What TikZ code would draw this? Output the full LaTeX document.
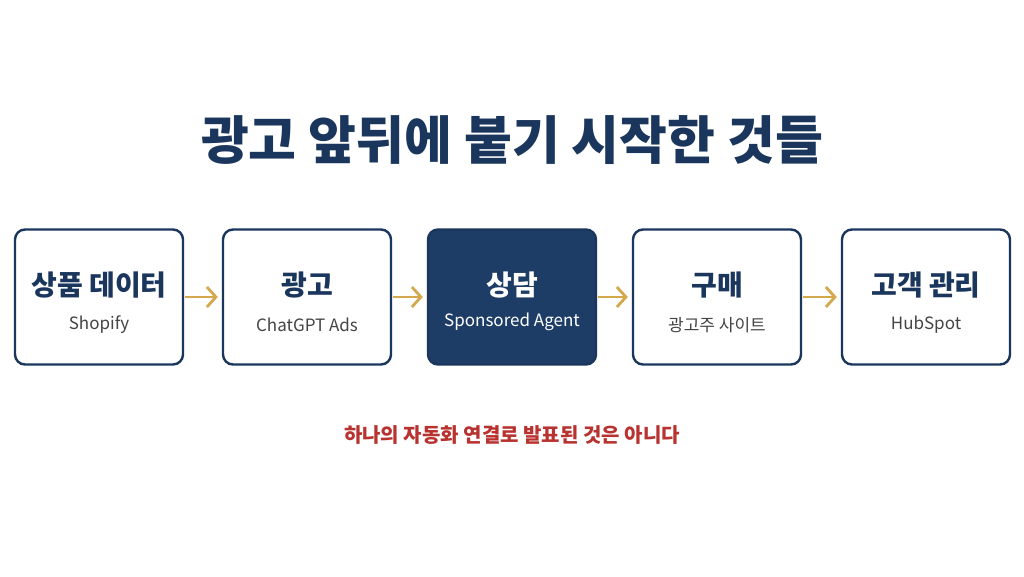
\documentclass[tikz,border=0pt]{standalone}
\usepackage{fontspec}
\setmainfont{Noto Sans CJK KR}
\usetikzlibrary{arrows.meta,calc}
\definecolor{navy}{HTML}{1B365D}
\definecolor{navyfill}{HTML}{1D3D66}
\definecolor{gold}{HTML}{D4A94E}
\definecolor{subgray}{HTML}{444444}
\definecolor{warnred}{HTML}{B8322F}
\tikzset{
  stagebox/.style = {draw = navy, line width = 2.4pt, rounded corners = 10pt,
    minimum width = 168pt, minimum height = 135pt, fill = white},
  stagehot/.style = {stagebox, fill = navyfill},
  stagename/.style = {font = \fontsize{28}{32}\selectfont\bfseries, text = navy},
  stagesub/.style = {font = \fontsize{17}{20}\selectfont, text = subgray},
  flow/.style = {draw = gold, line width = 2.8pt, -{Straight Barb[length=9pt,width=20pt]}}
}

\begin{document}
\begin{tikzpicture}[x = 1pt, y = -1pt]
        % canvas
        \useasboundingbox[fill = white](0,0)rectangle(1024,576);
        % title
        \node[font = \fontsize{52}{58}\selectfont\bfseries, text = navy](title)at(512,140){광고 앞뒤에 붙기 시작한 것들};
        % boxes
        \node[stagebox](data)at(99,297){};
        \node[stagebox](ads)at(307,297){};
        \node[stagehot](talk)at(512,297){};
        \node[stagebox](buy)at(717,297){};
        \node[stagebox](crm)at(926,297){};
        % labels
        \node[stagename](dataname)at($(data)+(0,-12)$){상품 데이터};
        \node[stagesub](datasub)at($(data)+(0,28)$){Shopify};
        \node[stagename](adsname)at($(ads)+(0,-12)$){광고};
        \node[stagesub](adssub)at($(ads)+(0,28)$){ChatGPT Ads};
        \node[stagename, text = white](talkname)at($(talk)+(0,-12)$){상담};
        \node[stagesub, text = white](talksub)at($(talk)+(0,25)$){Sponsored Agent};
        \node[stagename](buyname)at($(buy)+(0,-12)$){구매};
        \node[stagesub](buysub)at($(buy)+(0,28)$){광고주 사이트};
        \node[stagename](crmname)at($(crm)+(0,-12)$){고객 관리};
        \node[stagesub](crmsub)at($(crm)+(0,28)$){HubSpot};
        % arrows
        \draw[flow]($(data.east)+(1,0)$)to($(ads.west)+(-4,0)$);
        \draw[flow]($(ads.east)+(1,0)$)to($(talk.west)+(-4,0)$);
        \draw[flow]($(talk.east)+(1,0)$)to($(buy.west)+(-4,0)$);
        \draw[flow]($(buy.east)+(1,0)$)to($(crm.west)+(-4,0)$);
        % note
        \node[font = \fontsize{20}{24}\selectfont\bfseries, text = warnred](note)at(512,435){하나의 자동화 연결로 발표된 것은 아니다};
    \end{tikzpicture}
\end{document}
